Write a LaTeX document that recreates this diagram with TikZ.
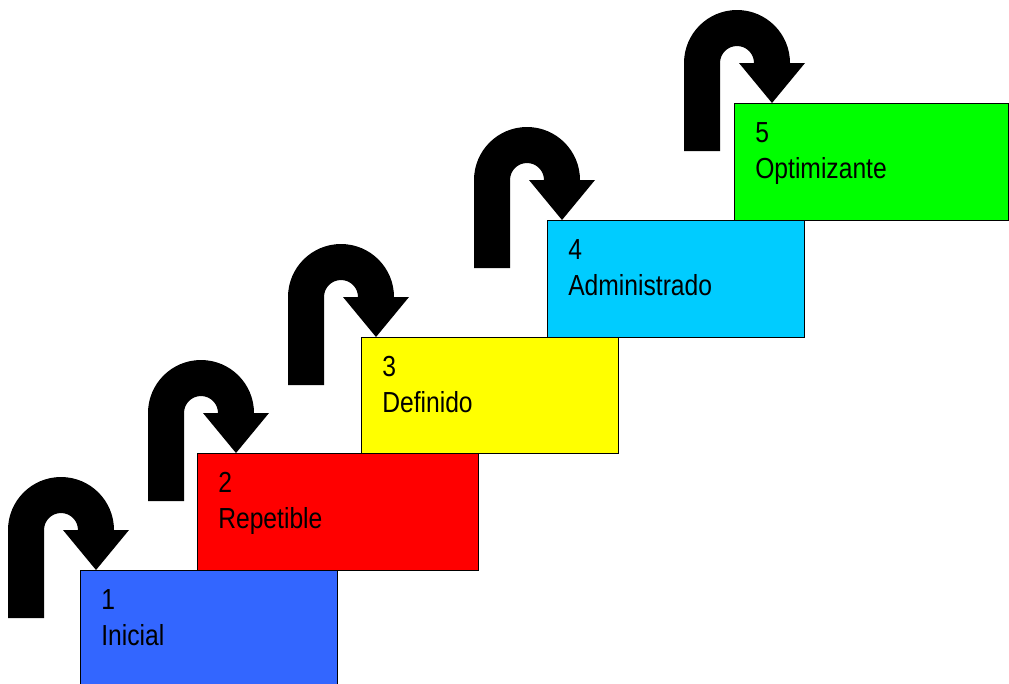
\documentclass[tikz,border=0pt]{standalone}
\usepackage{fontspec}
\newfontfamily\stepfont[FakeStretch=0.85]{Liberation Sans}
\definecolor{c1}{HTML}{3366FF}
\definecolor{c2}{HTML}{FF0000}
\definecolor{c3}{HTML}{FFFF00}
\definecolor{c4}{HTML}{00CCFF}
\definecolor{c5}{HTML}{00FF00}
\tikzset{
  stepbox/.style={draw=black, line width=1pt, rectangle, anchor=north west, inner sep=0pt, minimum height=87.75pt},
  steptext/.style={anchor=base west, inner sep=0pt, font=\stepfont\fontsize{21.75}{26}\selectfont},
  uturn/.pic={
    \fill[black] (-88,48) -- (-88,-40) arc[start angle=180, end angle=360, radius=53]
      -- (33,-40) -- (0,0) -- (-33,-40) -- (-18,-40)
      arc[start angle=360, end angle=180, radius=17]
      -- (-52,48) -- cycle;
  }
}
\begin{document}
\begin{tikzpicture}[x=0.75pt, y=-0.75pt]
\useasboundingbox (0,0) rectangle (1009,683);
\clip (0,0) rectangle (1009,683);
% boxes
\node[stepbox, fill=c1, minimum width=192.75pt, minimum height=97.5pt] (b1) at (80,570) {};
\node[stepbox, fill=c2, minimum width=210.75pt] (b2) at (197,453) {};
\node[stepbox, fill=c3, minimum width=192.75pt, minimum height=87pt] (b3) at (361,337) {};
\node[stepbox, fill=c4, minimum width=192.75pt] (b4) at (547,220) {};
\node[stepbox, fill=c5, minimum width=205.5pt] (b5) at (734,103) {};
% texts
\node[steptext] (n1) at (101,609) {1};
\node[steptext] (l1) at (101,645) {Inicial};
\node[steptext] (n2) at (218,492) {2};
\node[steptext] (l2) at (218,528) {Repetible};
\node[steptext] (n3) at (382,376) {3};
\node[steptext] (l3) at (382,412) {Definido};
\node[steptext] (n4) at (568,259) {4};
\node[steptext] (l4) at (568,295) {Administrado};
\node[steptext] (n5) at (755,142) {5};
\node[steptext] (l5) at (755,178) {Optimizante};
% u-turn arrows
\pic (a1) at (96,570) {uturn};
\pic (a2) at (236,453) {uturn};
\pic (a3) at (376,337) {uturn};
\pic (a4) at (562,220) {uturn};
\pic (a5) at (772,103) {uturn};
\end{tikzpicture}
\end{document}
